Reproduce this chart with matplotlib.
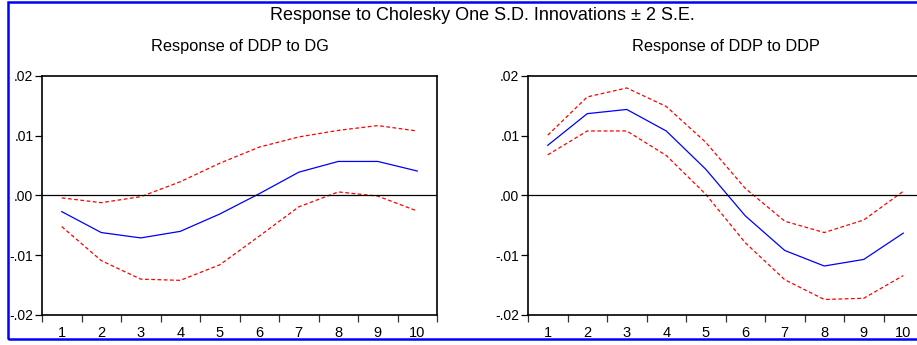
import matplotlib
matplotlib.use("Agg")
import matplotlib.pyplot as plt
from matplotlib.patches import Rectangle

# impulse responses, periods 1..10
PERIODS = list(range(1, 11))
YTICKS = [-0.02, -0.01, 0.0, 0.01, 0.02]
YLABELS = ["-.02", "-.01", ".00", ".01", ".02"]

DG_RESP = [-0.0027, -0.0062, -0.0071, -0.0060, -0.0031, 0.0003, 0.0039, 0.0057, 0.0057, 0.0041]
DG_UP = [-0.0004, -0.0012, -0.0002, 0.0023, 0.0054, 0.0081, 0.0098, 0.0109, 0.0117, 0.0108]
DG_LO = [-0.0052, -0.0109, -0.0140, -0.0142, -0.0116, -0.0068, -0.0019, 0.0006, -0.0001, -0.0026]

DDP_RESP = [0.0084, 0.0137, 0.0144, 0.0108, 0.0044, -0.0034, -0.0092, -0.0118, -0.0107, -0.0063]
DDP_UP = [0.0101, 0.0165, 0.0180, 0.0149, 0.0089, 0.0012, -0.0043, -0.0062, -0.0041, 0.0007]
DDP_LO = [0.0068, 0.0108, 0.0108, 0.0067, 0.0002, -0.0079, -0.0141, -0.0174, -0.0172, -0.0134]

W, H = 917, 345
plt.rcParams["font.family"] = ["Liberation Sans", "DejaVu Sans"]

fig = plt.figure(figsize=(W / 100, H / 100), dpi=100)
fig.patch.set_facecolor("white")

# blue frame around the whole graph (right edge runs off the picture), drawn under the axes
fig.add_artist(Rectangle((7.5 / W, 6.5 / H), 1.2, (H - 2 - 6.5) / H, transform=fig.transFigure,
                         fill=False, edgecolor="#0000ff", linewidth=1.8, zorder=-1))

fig.text(482 / W, 1 - 16 / H, "Response to Cholesky One S.D. Innovations \u00b1 2 S.E.",
         ha="center", va="center", fontsize=13)


def panel(x0, title, resp, up, lo):
    ax = fig.add_axes([x0 / W, 1 - 315 / H, 395 / W, 239 / H])
    ax.patch.set_alpha(0)
    ax.plot(PERIODS, up, color="red", lw=0.9, ls=(0, (3, 2)))
    ax.plot(PERIODS, lo, color="red", lw=0.9, ls=(0, (3, 2)))
    ax.plot(PERIODS, resp, color="blue", lw=0.9)
    ax.axhline(0, color="black", lw=0.9)
    ax.set_xlim(0.5, 10.5)
    ax.set_ylim(-0.02, 0.02)
    ax.set_yticks(YTICKS)
    ax.set_yticklabels(YLABELS)
    ax.set_xticks([p + 0.5 for p in [0] + PERIODS])
    ax.set_xticklabels([])
    ax.set_xticks(PERIODS, minor=True)
    ax.set_xticklabels([str(p) for p in PERIODS], minor=True)
    ax.tick_params(axis="x", which="major", direction="out", length=5, width=0.9, color="#333333")
    ax.tick_params(axis="x", which="minor", length=0, pad=8, labelsize=10.5)
    ax.tick_params(axis="y", direction="out", length=5, width=0.9, labelsize=10, pad=1.2)
    for s in ax.spines.values():
        s.set_linewidth(1.2)
    fig.text((x0 + 197.5) / W, 1 - 47 / H, title, ha="center", va="center", fontsize=11.8)
    return ax


panel(42, "Response of DDP to DG", DG_RESP, DG_UP, DG_LO)
panel(528, "Response of DDP to DDP", DDP_RESP, DDP_UP, DDP_LO)

fig.savefig("out.png", dpi=100, facecolor="white")
